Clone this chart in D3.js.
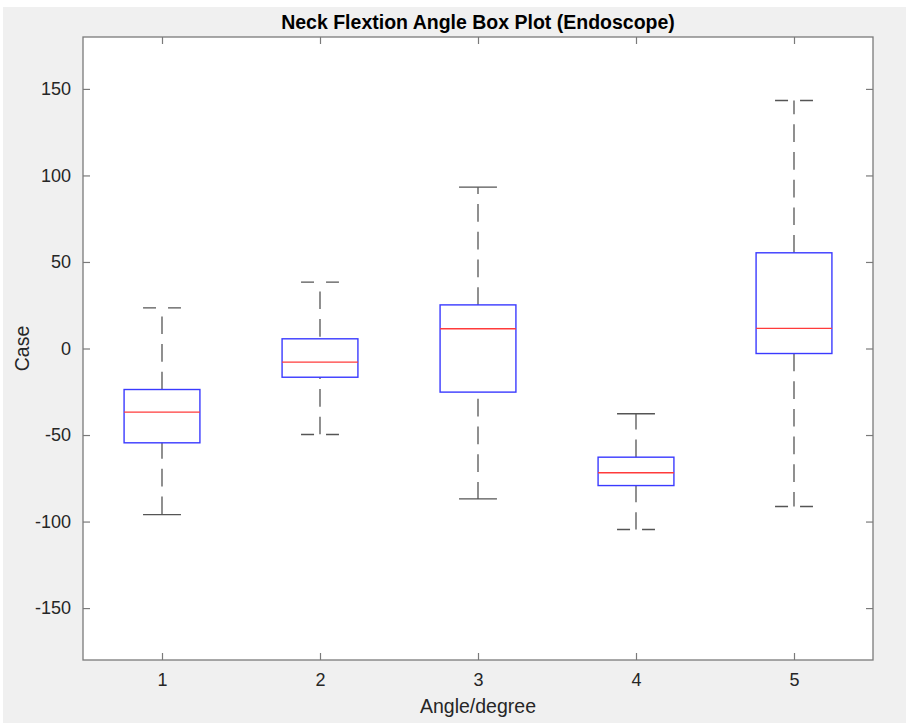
<!DOCTYPE html>
<html>
<head>
<meta charset="utf-8">
<script src="https://cdn.jsdelivr.net/npm/d3@7"></script>
<style>
  html, body { margin: 0; padding: 0; background: #ffffff; }
  svg { display: block; font-family: "Liberation Sans", Arial, Helvetica, sans-serif; }
</style>
</head>
<body>
<svg id="chart" width="909" height="725"></svg>
<script>
// Five-number summaries per case (degrees)
const cases = [1, 2, 3, 4, 5];
const lowerAdjacent = [-96.0, -49.7, -86.9, -104.6, -91.3];
const q1Values = [-54.5, -16.6, -25.2, -79.2, -2.9];
const medianValues = [-36.8, -7.9, 11.4, -71.8, 11.6];
const q3Values = [-23.7, 5.6, 25.2, -62.8, 55.3];
const upperAdjacent = [23.5, 38.3, 93.2, -37.7, 143.3];
const yTickValues = [-150, -100, -50, 0, 50, 100, 150];
const xTickLabels = ["1", "2", "3", "4", "5"];

const titleText = "Neck Flextion Angle Box Plot (Endoscope)";
const xLabelText = "Angle/degree";
const yLabelText = "Case";

// dash phase of each whisker and whether caps land inside a dash gap
const upperDashOffset = [0, -2, 0, 0, 0];
const lowerDashOffset = [1.7, 16, 21, 1, 0];
const upperCapGap = [true, true, false, false, true];
const lowerCapGap = [false, true, false, true, true];

const svg = d3.select("#chart");
const plot = { left: 83, right: 873, top: 37, bottom: 660 };

// figure background
svg.append("rect").attr("x", 3).attr("y", 7).attr("width", 903).attr("height", 716)
  .attr("fill", "#f0f0f0");
svg.append("rect").attr("x", plot.left).attr("y", plot.top)
  .attr("width", plot.right - plot.left).attr("height", plot.bottom - plot.top)
  .attr("fill", "#ffffff");

const x = d3.scaleLinear().domain([0.5, 5.5]).range([plot.left, plot.right]);
const y = d3.scaleLinear().domain([-180, 180]).range([plot.bottom, plot.top]);

const axisColor = "#7a7a7a";
const textColor = "#262626";
const tickLen = 7;

function styleAxis(g, showLabels) {
  g.select(".domain").remove();
  g.selectAll(".tick line").attr("stroke", axisColor).attr("stroke-width", 1.2);
  g.selectAll(".tick text").attr("fill", textColor).attr("font-size", 18)
    .attr("font-family", "Liberation Sans, Arial, sans-serif");
  if (!showLabels) g.selectAll(".tick text").remove();
}

// plain hyphen for negative tick labels
const yFormat = d => String(d);

svg.append("g").attr("transform", `translate(${plot.left},0)`)
  .call(d3.axisLeft(y).tickValues(yTickValues).tickFormat(yFormat)
    .tickSize(-tickLen).tickPadding(12).tickSizeOuter(0))
  .call(g => styleAxis(g, true));
svg.append("g").attr("transform", `translate(${plot.right},0)`)
  .call(d3.axisRight(y).tickValues(yTickValues).tickSize(-tickLen).tickSizeOuter(0))
  .call(g => styleAxis(g, false));
svg.append("g").attr("transform", `translate(0,${plot.bottom})`)
  .call(d3.axisBottom(x).tickValues(cases).tickFormat((d, i) => xTickLabels[i])
    .tickSize(-tickLen).tickPadding(13).tickSizeOuter(0))
  .call(g => styleAxis(g, true));
svg.append("g").attr("transform", `translate(0,${plot.top})`)
  .call(d3.axisTop(x).tickValues(cases).tickSize(-tickLen).tickSizeOuter(0))
  .call(g => styleAxis(g, false));

// axes frame
svg.append("rect").attr("x", plot.left).attr("y", plot.top)
  .attr("width", plot.right - plot.left).attr("height", plot.bottom - plot.top)
  .attr("fill", "none").attr("stroke", axisColor).attr("stroke-width", 1.3);

const boxHalf = 0.24;
const capHalf = 0.12;
const whiskerColor = "#555555";
const dash = "17.7,10";

const data = cases.map((c, i) => ({
  c, i,
  lo: lowerAdjacent[i], q1: q1Values[i], med: medianValues[i],
  q3: q3Values[i], hi: upperAdjacent[i]
}));

const boxes = svg.append("g").selectAll("g").data(data).join("g");

// upper whisker, drawn from the box upward
boxes.append("line")
  .attr("x1", d => x(d.c)).attr("x2", d => x(d.c))
  .attr("y1", d => y(d.q3)).attr("y2", d => y(d.hi))
  .attr("stroke", whiskerColor).attr("stroke-width", 1.3)
  .attr("stroke-dasharray", dash)
  .attr("stroke-dashoffset", d => upperDashOffset[d.i]);

// lower whisker, drawn from the box downward
boxes.append("line")
  .attr("x1", d => x(d.c)).attr("x2", d => x(d.c))
  .attr("y1", d => y(d.q1)).attr("y2", d => y(d.lo))
  .attr("stroke", whiskerColor).attr("stroke-width", 1.3)
  .attr("stroke-dasharray", dash)
  .attr("stroke-dashoffset", d => lowerDashOffset[d.i]);

// adjacent-value caps
boxes.append("line")
  .attr("x1", d => x(d.c - capHalf)).attr("x2", d => x(d.c + capHalf))
  .attr("y1", d => y(d.hi)).attr("y2", d => y(d.hi))
  .attr("stroke", whiskerColor).attr("stroke-width", 1.3)
  .attr("stroke-dasharray", d => upperCapGap[d.i] ? "13,12" : null);
boxes.append("line")
  .attr("x1", d => x(d.c - capHalf)).attr("x2", d => x(d.c + capHalf))
  .attr("y1", d => y(d.lo)).attr("y2", d => y(d.lo))
  .attr("stroke", whiskerColor).attr("stroke-width", 1.3)
  .attr("stroke-dasharray", d => lowerCapGap[d.i] ? "13,12" : null);

// interquartile boxes
boxes.append("rect")
  .attr("x", d => x(d.c - boxHalf))
  .attr("y", d => y(d.q3))
  .attr("width", d => x(d.c + boxHalf) - x(d.c - boxHalf))
  .attr("height", d => y(d.q1) - y(d.q3))
  .attr("fill", "none").attr("stroke", "#3a3aff").attr("stroke-width", 1.4);

// medians
boxes.append("line")
  .attr("x1", d => x(d.c - boxHalf)).attr("x2", d => x(d.c + boxHalf))
  .attr("y1", d => y(d.med)).attr("y2", d => y(d.med))
  .attr("stroke", "#ff3b3b").attr("stroke-width", 1.3);

// title and axis labels
svg.append("text").attr("x", (plot.left + plot.right) / 2).attr("y", 29)
  .attr("text-anchor", "middle").attr("font-size", 19.5).attr("font-weight", "bold")
  .attr("fill", "#000").text(titleText);
svg.append("text").attr("x", (plot.left + plot.right) / 2).attr("y", 713)
  .attr("text-anchor", "middle").attr("font-size", 19.5).attr("fill", textColor)
  .text(xLabelText);
svg.append("text")
  .attr("transform", `translate(29,${(plot.top + plot.bottom) / 2}) rotate(-90)`)
  .attr("text-anchor", "middle").attr("font-size", 19.5).attr("fill", textColor)
  .text(yLabelText);
</script>
</body>
</html>
